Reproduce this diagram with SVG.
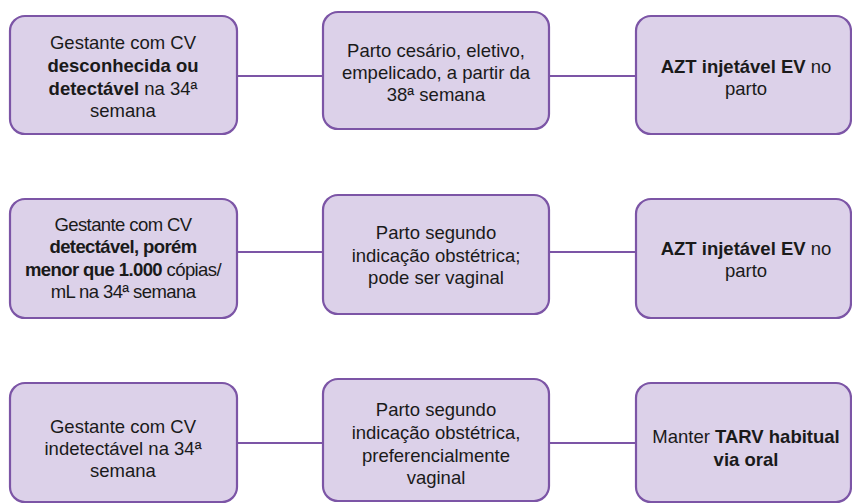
<svg xmlns="http://www.w3.org/2000/svg" width="852" height="504" viewBox="0 0 852 504">
<style>
.box{fill:#dcd1e9;stroke:#7c55a6;stroke-width:2.2}
.conn{stroke:#7c55a6;stroke-width:2.2;fill:none}
text{font-family:"Liberation Sans",Arial,sans-serif;font-size:18.5px;fill:#1a1a1a;text-anchor:middle}
.b{font-weight:bold}
.c{letter-spacing:-0.6px}
</style>
<rect width="852" height="504" fill="#ffffff"/>
<g id="connectors">
<line class="conn" x1="237" y1="76" x2="323" y2="76"/>
<line class="conn" x1="549" y1="76" x2="636" y2="76"/>
<line class="conn" x1="237" y1="252" x2="323" y2="252"/>
<line class="conn" x1="549" y1="252" x2="636" y2="252"/>
<line class="conn" x1="237" y1="443" x2="323" y2="443"/>
<line class="conn" x1="549" y1="443" x2="636" y2="443"/>
</g>
<g id="n1a">
<rect class="box" x="10" y="16" width="227" height="118" rx="15"/>
<text x="123" y="49">Gestante com CV</text>
<text x="123" y="72" class="b">desconhecida ou</text>
<text x="123" y="95"><tspan class="b">detectável</tspan> na 34ª</text>
<text x="123" y="117">semana</text>
</g>
<g id="n1b">
<rect class="box" x="323" y="12" width="226" height="117" rx="15"/>
<text x="436" y="57">Parto cesário, eletivo,</text>
<text x="436" y="79">empelicado, a partir da</text>
<text x="436" y="101">38ª semana</text>
</g>
<g id="n1c">
<rect class="box" x="636" y="16" width="215" height="118" rx="15"/>
<text x="746" y="73"><tspan class="b">AZT injetável EV</tspan> no</text>
<text x="746" y="95">parto</text>
</g>
<g id="n2a">
<rect class="box" x="10" y="199" width="227" height="119" rx="15"/>
<text x="123" y="231" class="c">Gestante com CV</text>
<text x="123" y="253" class="b c">detectável, porém</text>
<text x="123" y="276" class="c"><tspan class="b">menor que 1.000</tspan> cópias/</text>
<text x="123" y="298" class="c">mL na 34ª semana</text>
</g>
<g id="n2b">
<rect class="box" x="323" y="195" width="226" height="119" rx="15"/>
<text x="436" y="239">Parto segundo</text>
<text x="436" y="262">indicação obstétrica;</text>
<text x="436" y="284">pode ser vaginal</text>
</g>
<g id="n2c">
<rect class="box" x="636" y="199" width="215" height="119" rx="15"/>
<text x="746" y="255"><tspan class="b">AZT injetável EV</tspan> no</text>
<text x="746" y="277">parto</text>
</g>
<g id="n3a">
<rect class="box" x="10" y="383" width="227" height="119" rx="15"/>
<text x="123" y="433">Gestante com CV</text>
<text x="123" y="455">indetectável na 34ª</text>
<text x="123" y="477">semana</text>
</g>
<g id="n3b">
<rect class="box" x="323" y="379" width="226" height="122" rx="15"/>
<text x="436" y="416">Parto segundo</text>
<text x="436" y="439">indicação obstétrica,</text>
<text x="436" y="462">preferencialmente</text>
<text x="436" y="484">vaginal</text>
</g>
<g id="n3c">
<rect class="box" x="636" y="383" width="215" height="119" rx="15"/>
<text x="746" y="443">Manter <tspan class="b">TARV habitual</tspan></text>
<text x="746" y="466" class="b">via oral</text>
</g>
</svg>
